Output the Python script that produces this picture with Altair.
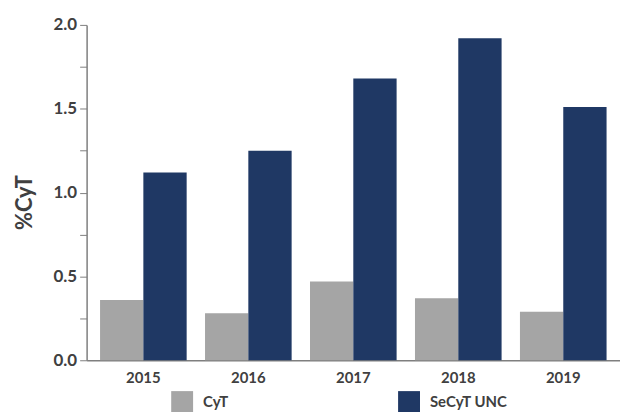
import altair as alt
import pandas as pd

years = ["2015", "2016", "2017", "2018", "2019"]
cyt = [0.36, 0.28, 0.47, 0.37, 0.29]
secyt = [1.12, 1.25, 1.68, 1.92, 1.51]
series = ["CyT", "SeCyT UNC"]
colors = ["#a5a5a5", "#1f3864"]
y_ticks = [0, 0.25, 0.5, 0.75, 1.0, 1.25, 1.5, 1.75, 2.0]

rows = []
for i, yr in enumerate(years):
    rows.append({"year": yr, "serie": series[0], "value": cyt[i]})
    rows.append({"year": yr, "serie": series[1], "value": secyt[i]})
df = pd.DataFrame(rows)

FONT = "Lato"
TXT = "#404040"

chart = alt.Chart(df).mark_bar().encode(
    x=alt.X("year:N", sort=years,
            scale=alt.Scale(paddingInner=0.175, paddingOuter=0.128),
            axis=alt.Axis(title=None, labelAngle=0, ticks=False, domainColor="#7f7f7f",
                          domainWidth=1.5, labelFont=FONT, labelFontWeight="bold",
                          labelFontSize=15, labelColor=TXT, labelPadding=10)),
    xOffset=alt.XOffset("serie:N", sort=series, scale=alt.Scale(paddingInner=0, paddingOuter=0)),
    y=alt.Y("value:Q", scale=alt.Scale(domain=[0, 2], nice=False),
            axis=alt.Axis(title="%CyT", values=y_ticks, grid=False,
                          labelExpr="datum.value % 0.5 == 0 ? format(datum.value, '.1f') : ''",
                          domainColor="#7f7f7f", domainWidth=1.5, tickColor="#7f7f7f",
                          tickSize=7, labelPadding=3, labelFont=FONT, labelFontWeight="bold",
                          labelFontSize=17, labelColor=TXT, titleFont=FONT,
                          titleFontSize=22, titleFontWeight="bold", titleColor=TXT,
                          titleX=-50, titleY=178)),
    color=alt.Color("serie:N", sort=series,
                    scale=alt.Scale(domain=series, range=colors),
                    legend=alt.Legend(title=None, orient="none", legendX=85, legendY=368,
                                      direction="horizontal", columns=2, columnPadding=170,
                                      symbolType="square", symbolSize=484,
                                      symbolStrokeWidth=0, labelOffset=10, padding=0,
                                      labelFont=FONT, labelFontWeight="bold",
                                      labelFontSize=15, labelColor=TXT)),
).properties(
    width=536, height=337,
    autosize=alt.AutoSizeParams(type="none"),
    padding={"left": 79, "top": 16, "right": 0, "bottom": 51},
).configure_view(stroke=None)

chart.save("out.html", embed_options={"renderer": "svg", "actions": False})
